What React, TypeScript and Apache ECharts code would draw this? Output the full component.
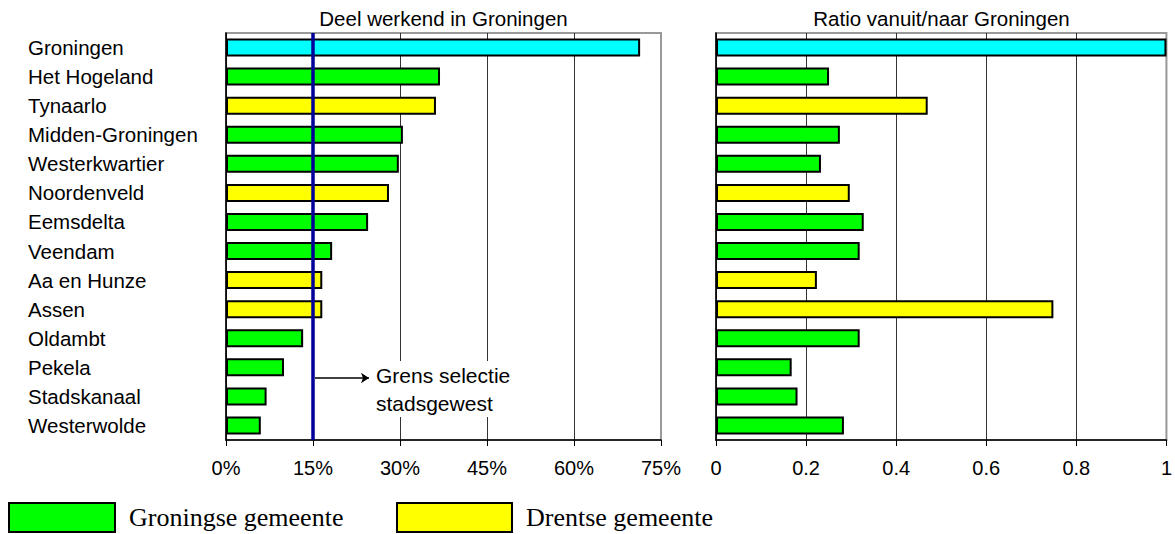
import React, { useEffect, useRef } from "react";
import * as echarts from "echarts";

const categories = [
  "Groningen",
  "Het Hogeland",
  "Tynaarlo",
  "Midden-Groningen",
  "Westerkwartier",
  "Noordenveld",
  "Eemsdelta",
  "Veendam",
  "Aa en Hunze",
  "Assen",
  "Oldambt",
  "Pekela",
  "Stadskanaal",
  "Westerwolde",
];

// "stad" = Groningen itself, "G" = Groningse gemeente, "D" = Drentse gemeente
const province = ["stad", "G", "D", "G", "G", "D", "G", "G", "D", "D", "G", "G", "G", "G"];

// Deel werkend in Groningen (%)
const deelWerkend = [71.4, 36.9, 36.2, 30.5, 29.8, 28.1, 24.5, 18.3, 16.6, 16.6, 13.3, 10.0, 7.0, 6.0];

// Ratio vanuit/naar Groningen
const ratio = [1.0, 0.251, 0.47, 0.275, 0.233, 0.297, 0.328, 0.319, 0.224, 0.749, 0.319, 0.168, 0.181, 0.284];

const grensSelectie = 15; // %

const groups = [
  { key: "stad", name: "Groningen", color: "#00FFFF" },
  { key: "G", name: "Groningse gemeente", color: "#00FF00" },
  { key: "D", name: "Drentse gemeente", color: "#FFFF00" },
];

const SANS = "'Liberation Sans', Arial, sans-serif";
const SERIF = "'Liberation Serif', 'Times New Roman', serif";

function buildSeries(values: number[], axisIndex: number, withMarks: boolean) {
  return groups.map((g, gi) => {
    const s: any = {
      type: "bar",
      name: g.name,
      xAxisIndex: axisIndex,
      yAxisIndex: axisIndex,
      barWidth: 18,
      barGap: "-100%",
      itemStyle: { color: g.color, borderColor: "#000", borderWidth: 2 },
      data: values.map((v, i) => (province[i] === g.key ? v : null)),
    };
    if (withMarks && gi === 0) {
      s.markLine = {
        silent: true,
        animation: false,
        symbol: ["none", "none"],
        label: { show: false },
        data: [
          { xAxis: grensSelectie, lineStyle: { color: "#000099", width: 3.5, type: "solid" } },
          [
            { x: 315, y: 378, symbol: "none", lineStyle: { color: "#000", width: 1.5, type: "solid" } },
            { x: 369, y: 378, symbol: "arrow", symbolSize: 8 },
          ],
        ],
      };
    }
    return s;
  });
}

const legendCommon = {
  top: 502,
  padding: 0,
  icon: "rect",
  itemHeight: 29,
  selectedMode: false,
  itemStyle: { borderColor: "#000", borderWidth: 2 },
  textStyle: { fontFamily: SERIF, fontSize: 26, color: "#000", padding: [0, 0, 0, 9] },
};

export default function App() {
  const ref = useRef<HTMLDivElement>(null);

  useEffect(() => {
    document.body.style.margin = "0";
    if (!ref.current) return;
    const chart = echarts.init(ref.current, null, { renderer: "svg" });

    const valueAxisCommon = {
      type: "value",
      axisLine: { show: true, lineStyle: { color: "#000", width: 1.5 } },
      axisTick: { show: true, length: 6, lineStyle: { color: "#000", width: 1 } },
      splitLine: { show: true, showMaxLine: false, lineStyle: { color: "#333", width: 1 } },
      axisLabel: { fontFamily: SANS, fontSize: 20, color: "#000", margin: 18 },
    };

    const titleStyle = { fontFamily: SANS, fontSize: 20.5, fontWeight: "normal", color: "#000" };

    const option: any = {
      animation: false,
      textStyle: { fontFamily: SANS },
      title: [
        { text: "Deel werkend in Groningen", left: 443.5, top: 8, padding: 0, textAlign: "center", textStyle: titleStyle },
        { text: "Ratio vanuit/naar Groningen", left: 941.5, top: 8, padding: 0, textAlign: "center", textStyle: titleStyle },
      ],
      legend: [
        { ...legendCommon, data: ["Groningse gemeente"], left: 8, itemWidth: 106 },
        { ...legendCommon, data: ["Drentse gemeente"], left: 396, itemWidth: 115 },
      ],
      grid: [
        { left: 226, width: 435, top: 33, height: 407, show: true, borderColor: "#999", borderWidth: 2 },
        { left: 716, width: 451, top: 33, height: 407, show: true, borderColor: "#999", borderWidth: 2 },
      ],
      xAxis: [
        {
          ...valueAxisCommon,
          gridIndex: 0,
          min: 0,
          max: 75,
          interval: 15,
          axisLabel: { ...valueAxisCommon.axisLabel, formatter: "{value}%" },
        },
        {
          ...valueAxisCommon,
          gridIndex: 1,
          min: 0,
          max: 1,
          interval: 0.2,
        },
      ],
      yAxis: [
        {
          type: "category",
          gridIndex: 0,
          data: categories,
          inverse: true,
          axisLine: { show: true, lineStyle: { color: "#000", width: 1.5 } },
          axisTick: { show: false },
          splitLine: { show: false },
          axisLabel: { fontFamily: SANS, fontSize: 20.5, color: "#000", align: "left", margin: 198 },
        },
        {
          type: "category",
          gridIndex: 1,
          data: categories,
          inverse: true,
          axisLine: { show: true, lineStyle: { color: "#000", width: 1.5 } },
          axisTick: { show: false },
          splitLine: { show: false },
          axisLabel: { show: false },
        },
      ],
      series: [...buildSeries(deelWerkend, 0, true), ...buildSeries(ratio, 1, false)],
      graphic: [
        {
          type: "text",
          x: 376,
          y: 361,
          z: 100,
          style: {
            text: "Grens selectie\nstadsgewest",
            fontFamily: SANS,
            fontSize: 21,
            lineHeight: 28,
            fill: "#000",
            backgroundColor: "#fff",
            verticalAlign: "top",
            align: "left",
          },
        },
      ],
    };

    chart.setOption(option);
    return () => chart.dispose();
  }, []);

  return <div ref={ref} style={{ width: 1175, height: 534 }} />;
}
